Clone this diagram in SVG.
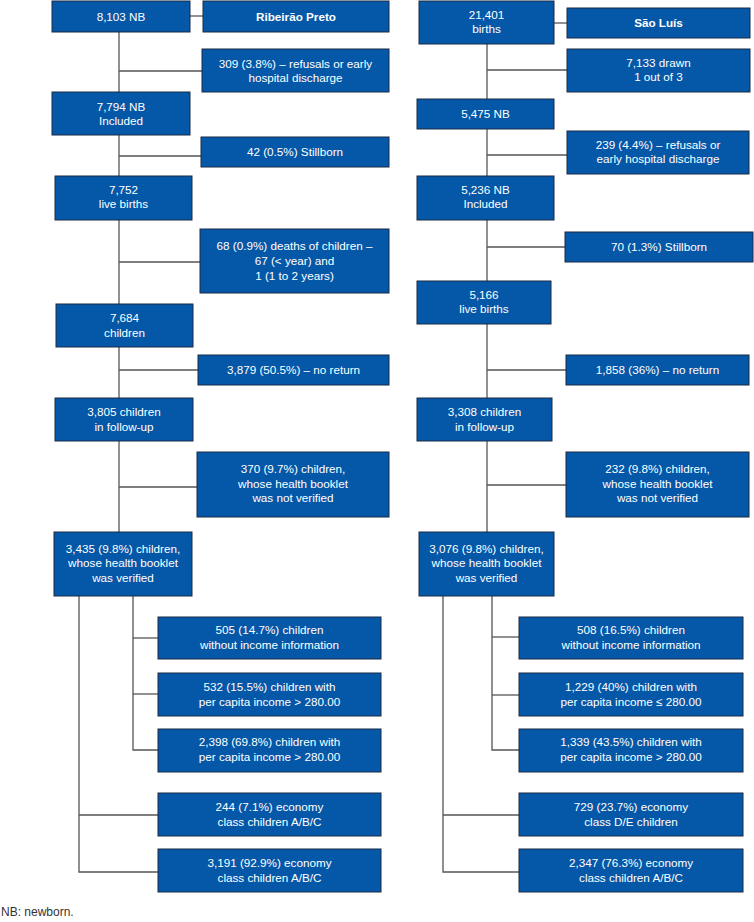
<svg xmlns="http://www.w3.org/2000/svg" width="754" height="922" viewBox="0 0 754 922">
<style>
.b{fill:#0558a8;stroke:#1b2a44;stroke-width:1}
.t{font-family:"Liberation Sans",Arial,sans-serif;font-size:11.7px;fill:#ffffff;text-anchor:middle}
.bold{font-weight:bold}
.c{fill:none;stroke:#555555;stroke-width:1.3}
.note{font-family:"Liberation Sans",Arial,sans-serif;font-size:12px;fill:#333333}
</style>
<rect width="754" height="922" fill="#ffffff"/>
<g id="connectors">
<path class="c" d="M190,16H203"/>
<path class="c" d="M119,32V532"/>
<path class="c" d="M119,71H202"/>
<path class="c" d="M119,156H201"/>
<path class="c" d="M119,262H200"/>
<path class="c" d="M119,370H198"/>
<path class="c" d="M119,487H197"/>
<path class="c" d="M79,596V872H158"/>
<path class="c" d="M79,815H158"/>
<path class="c" d="M133,596V750H158"/>
<path class="c" d="M133,638H158"/>
<path class="c" d="M133,694H158"/>
<path class="c" d="M554,23H567"/>
<path class="c" d="M487,44V532"/>
<path class="c" d="M487,70H567"/>
<path class="c" d="M487,155H567"/>
<path class="c" d="M487,247H565"/>
<path class="c" d="M487,370H566"/>
<path class="c" d="M487,485H566"/>
<path class="c" d="M443,596V872H519"/>
<path class="c" d="M443,815H519"/>
<path class="c" d="M492,596V750H519"/>
<path class="c" d="M492,637H519"/>
<path class="c" d="M492,695H519"/>
</g>
<g id="n1"><rect class="b" x="52" y="1" width="138" height="31"/><text class="t" x="121" y="20.5">8,103 NB</text></g>
<g id="rp"><rect class="b" x="203" y="1" width="186" height="31"/><text class="t bold" x="296" y="20.5">Ribeirão Preto</text></g>
<g id="n2"><rect class="b" x="202" y="49" width="187" height="43"/><text class="t" x="295.5" y="67.5">309 (3.8%) – refusals or early</text><text class="t" x="295.5" y="81.5">hospital discharge</text></g>
<g id="n3"><rect class="b" x="52" y="92" width="138" height="43"/><text class="t" x="121" y="111">7,794 NB</text><text class="t" x="121" y="125">Included</text></g>
<g id="n4"><rect class="b" x="201" y="137" width="188" height="30"/><text class="t" x="295" y="156">42 (0.5%) Stillborn</text></g>
<g id="n5"><rect class="b" x="55" y="176" width="137" height="44"/><text class="t" x="123.5" y="194">7,752</text><text class="t" x="123.5" y="208">live births</text></g>
<g id="n6"><rect class="b" x="200" y="229" width="189" height="64"/><text class="t" x="294.5" y="250">68 (0.9%) deaths of children –</text><text class="t" x="294.5" y="265">67 (&lt; year) and</text><text class="t" x="294.5" y="280">1 (1 to 2 years)</text></g>
<g id="n7"><rect class="b" x="56" y="304" width="137" height="43"/><text class="t" x="124.5" y="322">7,684</text><text class="t" x="124.5" y="337">children</text></g>
<g id="n8"><rect class="b" x="198" y="355" width="191" height="30"/><text class="t" x="293.5" y="374">3,879 (50.5%) – no return</text></g>
<g id="n9"><rect class="b" x="55" y="398" width="138" height="43"/><text class="t" x="124" y="416">3,805 children</text><text class="t" x="124" y="431">in follow-up</text></g>
<g id="n10"><rect class="b" x="197" y="452" width="192" height="65"/><text class="t" x="293" y="473">370 (9.7%) children,</text><text class="t" x="293" y="488">whose health booklet</text><text class="t" x="293" y="502">was not verified</text></g>
<g id="n11"><rect class="b" x="54" y="532" width="138" height="64"/><text class="t" x="123" y="553">3,435 (9.8%) children,</text><text class="t" x="123" y="567">whose health booklet</text><text class="t" x="123" y="582">was verified</text></g>
<g id="n12"><rect class="b" x="158" y="617" width="223" height="42"/><text class="t" x="269.5" y="634">505 (14.7%) children</text><text class="t" x="269.5" y="649">without income information</text></g>
<g id="n13"><rect class="b" x="158" y="673" width="223" height="43"/><text class="t" x="269.5" y="691">532 (15.5%) children with</text><text class="t" x="269.5" y="706">per capita income &gt; 280.00</text></g>
<g id="n14"><rect class="b" x="158" y="729" width="223" height="43"/><text class="t" x="269.5" y="746">2,398 (69.8%) children with</text><text class="t" x="269.5" y="761">per capita income &gt; 280.00</text></g>
<g id="n15"><rect class="b" x="158" y="793" width="223" height="43"/><text class="t" x="269.5" y="811">244 (7.1%) economy</text><text class="t" x="269.5" y="826">class children A/B/C</text></g>
<g id="n16"><rect class="b" x="158" y="849" width="223" height="43"/><text class="t" x="269.5" y="867">3,191 (92.9%) economy</text><text class="t" x="269.5" y="882">class children A/B/C</text></g>
<g id="r1"><rect class="b" x="419" y="1" width="135" height="43"/><text class="t" x="486.5" y="19">21,401</text><text class="t" x="486.5" y="33">births</text></g>
<g id="sl"><rect class="b" x="567" y="8" width="183" height="30"/><text class="t bold" x="658.5" y="27">São Luís</text></g>
<g id="r2"><rect class="b" x="567" y="49" width="183" height="43"/><text class="t" x="658.5" y="67">7,133 drawn</text><text class="t" x="658.5" y="81">1 out of 3</text></g>
<g id="r3"><rect class="b" x="417" y="99" width="137" height="30"/><text class="t" x="485.5" y="118">5,475 NB</text></g>
<g id="r4"><rect class="b" x="567" y="131" width="182" height="43"/><text class="t" x="658" y="149">239 (4.4%) – refusals or</text><text class="t" x="658" y="163">early hospital discharge</text></g>
<g id="r5"><rect class="b" x="417" y="176" width="137" height="44"/><text class="t" x="485.5" y="194">5,236 NB</text><text class="t" x="485.5" y="208">Included</text></g>
<g id="r6"><rect class="b" x="565" y="232" width="188" height="30"/><text class="t" x="659" y="251">70 (1.3%) Stillborn</text></g>
<g id="r7"><rect class="b" x="417" y="281" width="134" height="43"/><text class="t" x="484" y="299">5,166</text><text class="t" x="484" y="313">live births</text></g>
<g id="r8"><rect class="b" x="566" y="355" width="183" height="30"/><text class="t" x="657.5" y="374">1,858 (36%) – no return</text></g>
<g id="r9"><rect class="b" x="417" y="398" width="135" height="43"/><text class="t" x="484.5" y="416">3,308 children</text><text class="t" x="484.5" y="431">in follow-up</text></g>
<g id="r10"><rect class="b" x="566" y="452" width="183" height="65"/><text class="t" x="657.5" y="473">232 (9.8%) children,</text><text class="t" x="657.5" y="488">whose health booklet</text><text class="t" x="657.5" y="502">was not verified</text></g>
<g id="r11"><rect class="b" x="419" y="532" width="135" height="64"/><text class="t" x="486.5" y="553">3,076 (9.8%) children,</text><text class="t" x="486.5" y="567">whose health booklet</text><text class="t" x="486.5" y="582">was verified</text></g>
<g id="r12"><rect class="b" x="519" y="617" width="224" height="42"/><text class="t" x="631" y="634">508 (16.5%) children</text><text class="t" x="631" y="649">without income information</text></g>
<g id="r13"><rect class="b" x="519" y="673" width="224" height="43"/><text class="t" x="631" y="691">1,229 (40%) children with</text><text class="t" x="631" y="706">per capita income ≤ 280.00</text></g>
<g id="r14"><rect class="b" x="519" y="729" width="224" height="43"/><text class="t" x="631" y="746">1,339 (43.5%) children with</text><text class="t" x="631" y="761">per capita income &gt; 280.00</text></g>
<g id="r15"><rect class="b" x="519" y="793" width="224" height="43"/><text class="t" x="631" y="811">729 (23.7%) economy</text><text class="t" x="631" y="826">class D/E children</text></g>
<g id="r16"><rect class="b" x="519" y="849" width="224" height="43"/><text class="t" x="631" y="867">2,347 (76.3%) economy</text><text class="t" x="631" y="882">class children A/B/C</text></g>
<text class="note" x="1" y="916">NB: newborn.</text>
</svg>
